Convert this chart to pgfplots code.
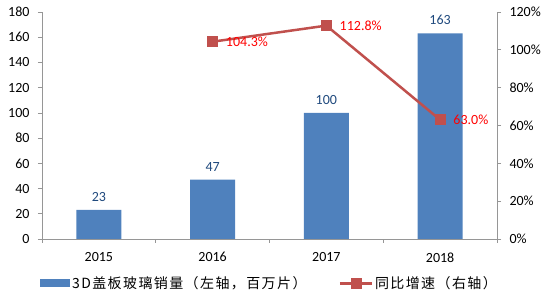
\documentclass[border=0pt]{standalone}
\usepackage{pgfplots}
\pgfplotsset{compat=1.18}
\usepackage{fontspec}
\setmainfont{Carlito}
\newfontfamily\cjk[LetterSpace=10]{Noto Sans CJK SC}
\definecolor{barblue}{RGB}{79,129,189}
\definecolor{linered}{RGB}{192,80,77}
\definecolor{labblue}{RGB}{31,73,125}
\definecolor{axgray}{RGB}{150,150,150}
\begin{document}
\begin{tikzpicture}[x=1pt,y=1pt]
\useasboundingbox (0,0) rectangle (550,299);
\begin{axis}[
  at={(42pt,60pt)}, anchor=south west,
  scale only axis, width=455pt, height=227pt,
  xmin=-0.5, xmax=3.5, ymin=0, ymax=180,
  axis x line*=bottom, axis y line*=left,
  axis line style={axgray, line width=0.7pt, -},
  xtick={0,1,2,3}, xticklabels={2015,2016,2017,2018},
  major x tick style={draw=none},
  minor xtick={-0.5,0.5,1.5,2.5,3.5},
  minor x tick style={axgray, line width=0.7pt},
  ytick={0,20,...,180},
  y tick style={axgray, line width=0.7pt},
  tick align=outside, major tick length=4pt, minor tick length=4pt,
  ticklabel style={font=\fontsize{14}{16}\selectfont, text=black},
  xticklabel style={yshift=-6pt},
  yticklabel style={xshift=-5pt},
  /pgf/number format/assume math mode=true,
  ybar, bar width=45pt,
  nodes near coords,
  nodes near coords style={text=labblue, font=\fontsize{14}{16}\selectfont, yshift=5pt},
  legend style={at={(0.5,-0.195)}, anchor=center, draw=none, fill=none,
    legend columns=2, font=\fontsize{14}{16}\selectfont,
    /tikz/every even column/.append style={column sep=30pt}},
  clip=false,
]
\addplot[fill=barblue, draw=none,
  legend image code/.code={\fill[barblue] (0pt,-4pt) rectangle (30pt,4pt);}]
  coordinates {(0,23) (1,47) (2,100) (3,163)};
\addlegendentry{\cjk 3D盖板玻璃销量（左轴，百万片）}
\addlegendimage{legend image code/.code={
  \draw[linered, line width=2.5pt] (0pt,0pt) -- (32pt,0pt);
  \fill[linered] (11pt,-5pt) rectangle (21pt,5pt);}}
\addlegendentry{\cjk 同比增速（右轴）}
\end{axis}
\begin{axis}[
  at={(42pt,60pt)}, anchor=south west,
  scale only axis, width=455pt, height=227pt,
  xmin=-0.5, xmax=3.5, ymin=0, ymax=120,
  axis x line=none, axis y line*=right,
  axis line style={axgray, line width=0.7pt, -},
  ytick={0,20,...,120},
  yticklabel={\pgfmathprintnumber{\tick}\%},
  y tick style={axgray, line width=0.7pt},
  tick align=outside, major tick length=4pt,
  ticklabel style={font=\fontsize{14}{16}\selectfont, text=black},
  yticklabel style={xshift=5pt},
  /pgf/number format/assume math mode=true,
  clip=false,
]
\addplot[linered, line width=2.5pt, mark=square*, mark size=5pt,
  mark options={fill=linered, draw=linered, line width=0pt},
  nodes near coords, point meta=explicit symbolic,
  nodes near coords style={anchor=west, text=red, xshift=10pt,
    font=\fontsize{14}{16}\selectfont}]
  coordinates {(1,104.3)[104.3\%] (2,112.8)[112.8\%] (3,63.0)[63.0\%]};
\end{axis}
\end{tikzpicture}
\end{document}
